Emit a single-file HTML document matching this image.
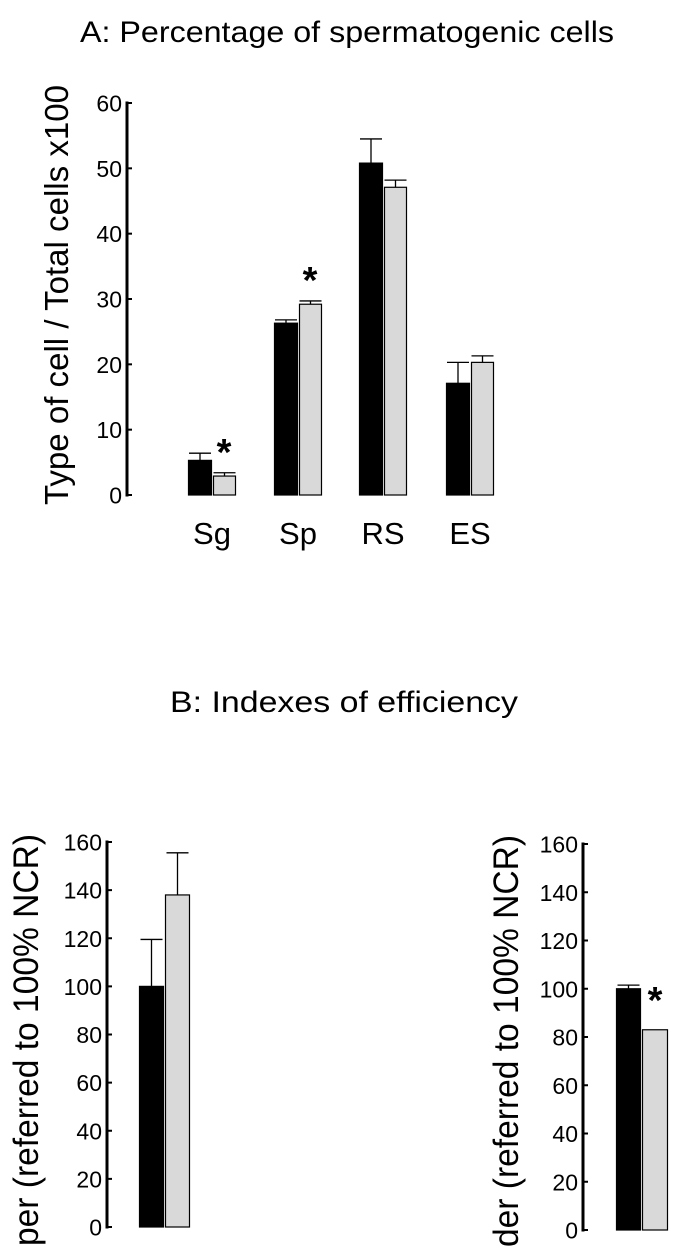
<!DOCTYPE html>
<html><head><meta charset="utf-8"><style>
html,body{margin:0;padding:0;background:#fff;}
svg{display:block;font-family:"Liberation Sans",Arial,sans-serif;}
</style></head><body>
<svg id="fig" width="675" height="1250" viewBox="0 0 675 1250">
<text x="347" y="42" font-size="30" text-anchor="middle" textLength="534" lengthAdjust="spacingAndGlyphs">A: Percentage of spermatogenic cells</text>
<text transform="translate(68,295) rotate(-90)" font-size="33" text-anchor="middle" textLength="420" lengthAdjust="spacingAndGlyphs">Type of cell / Total cells x100</text>
<text x="344" y="712" font-size="30" text-anchor="middle" textLength="348" lengthAdjust="spacingAndGlyphs">B: Indexes of efficiency</text>
<text transform="translate(38,834) rotate(-90)" font-size="35" text-anchor="end" textLength="412" lengthAdjust="spacingAndGlyphs">per (referred to 100% NCR)</text>
<text transform="translate(518,835) rotate(-90)" font-size="35" text-anchor="end" textLength="412" lengthAdjust="spacingAndGlyphs">der (referred to 100% NCR)</text>
<g id="gA"></g>
<g id="gB1"></g>
<g id="gB2"></g>
</svg>
<script>
const categoriesA = ["Sg","Sp","RS","ES"];
const blackA = [5.3, 26.3, 50.8, 17.1];
const blackErrA = [1.1, 0.5, 3.7, 3.2];
const grayA = [2.9, 29.2, 47.1, 20.3];
const grayErrA = [0.5, 0.5, 1.1, 1.0];
const sigGrayA = [true, true, false, false];
const ticksA = [0,10,20,30,40,50,60];

const ticksB = [0,20,40,60,80,100,120,140,160];
const blackB1 = [100]; const blackErrB1 = [19.5];
const grayB1 = [138]; const grayErrB1 = [17.5];
const blackB2 = [100]; const blackErrB2 = [1.5];
const grayB2 = [83]; const grayErrB2 = [0];
const sigB2 = [true];

const NS="http://www.w3.org/2000/svg";
function mk(parent, tag, attrs){const e=document.createElementNS(NS,tag);for(const k in attrs)e.setAttribute(k,attrs[k]);parent.appendChild(e);return e;}

function axis(g, x, y0, y1, max, ticks, fs, name){
  const ys=v=>y0-(v/max)*(y0-y1);
  const l=mk(g,'line',{x1:x,y1:y0+1.5,x2:x,y2:y1-1.5,stroke:'#000','stroke-width':3});
  
  
  ticks.forEach(t=>{
    const tk=mk(g,'line',{x1:x,y1:ys(t),x2:x+5,y2:ys(t),stroke:'#000','stroke-width':2});
    
    
    const tx=mk(g,'text',{x:x-5,y:ys(t)+8.5,'font-size':fs,'text-anchor':'end'});
    tx.textContent=t;
    
    
  });
  return ys;
}
function bar(g, x, w, v, err, ys, fill, name){
  const y0=ys(0), yt=ys(v);
  if(err>0){
    const e=mk(g,'path',{d:`M${x+w/2} ${yt} V${ys(v+err)} M${x+w/2-11} ${ys(v+err)} H${x+w/2+11}`,stroke:'#000','stroke-width':1.3,fill:'none'});
    
    
  }
  const r=mk(g,'rect',{x:x+0.5,y:yt,width:w-1,height:y0-yt,fill:fill,stroke:'#000','stroke-width':1.2});
  
  
}
function star(g,x,y,name){
  const s=mk(g,'text',{x:x,y:y,'font-size':38,'font-weight':'bold','text-anchor':'middle'});
  s.textContent='*';
  
  
}

// Chart A
const gA=document.getElementById('gA');
const ysA=axis(gA,127,495,103,60,ticksA,23,'chart-a');
const groupX=[188,274,359,446];
categoriesA.forEach((c,i)=>{
  const x=groupX[i];
  bar(gA,x,24,blackA[i],blackErrA[i],ysA,'#000','bar-'+c.toLowerCase()+'-control');
  bar(gA,x+25,23,grayA[i],grayErrA[i],ysA,'#d9d9d9','bar-'+c.toLowerCase()+'-treated');
  if(sigGrayA[i]) star(gA,x+36,ysA(grayA[i]+grayErrA[i])-8,'significance-star-'+c.toLowerCase());
  const t=mk(gA,'text',{x:x+24,y:544,'font-size':31,'text-anchor':'middle'});
  t.textContent=c;
  
  
});

// Chart B1
const gB1=document.getElementById('gB1');
const ysB1=axis(gB1,107,1227,842,160,ticksB,23,'chart-b1');
bar(gB1,139,25,blackB1[0],blackErrB1[0],ysB1,'#000','bar-b1-control');
bar(gB1,165,25,grayB1[0],grayErrB1[0],ysB1,'#d9d9d9','bar-b1-treated');

// Chart B2
const gB2=document.getElementById('gB2');
const ysB2=axis(gB2,583,1230,844,160,ticksB,23,'chart-b2');
bar(gB2,616,25,blackB2[0],blackErrB2[0],ysB2,'#000','bar-b2-control');
bar(gB2,642,26,grayB2[0],grayErrB2[0],ysB2,'#d9d9d9','bar-b2-treated');
if(sigB2[0]) star(gB2,655,ysB2(blackB2[0])+24,'significance-star-b2');
</script>
</body></html>
